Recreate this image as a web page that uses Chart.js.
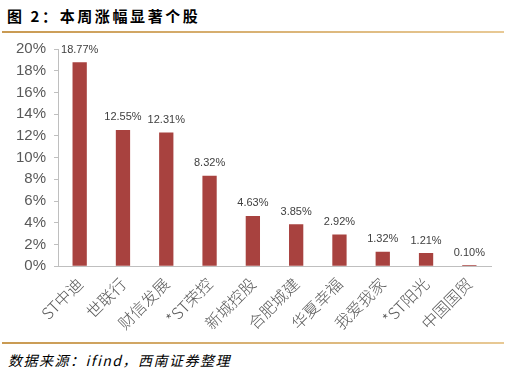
<!DOCTYPE html>
<html>
<head>
<meta charset="utf-8">
<script src="https://cdn.jsdelivr.net/npm/chart.js@4"></script>
<style>
  body { margin: 0; background: #fff; }
  #wrap { position: relative; width: 507px; height: 376px; overflow: hidden; font-family: "Noto Sans CJK SC", sans-serif; }
  #title { position: absolute; left: 7px; top: 5px; font-size: 15px; font-weight: bold; color: #000; letter-spacing: 2.6px; }
  .rule { position: absolute; left: 2px; width: 502px; height: 2px; background: linear-gradient(to right, #c99a52, #e8c995); }
  #src { position: absolute; left: 8px; top: 350px; font-size: 14px; font-style: italic; color: #000; letter-spacing: 1.5px; }
  #box { position: absolute; left: 0; top: 32px; width: 507px; height: 309px; }
</style>
</head>
<body>
<div id="wrap">
  <div id="title">图 2：本周涨幅显著个股</div>
  <div class="rule" style="top:31px"></div>
  <div id="box"><canvas id="barChart"></canvas></div>
  <div class="rule" style="top:342px"></div>
  <div id="src">数据来源：ifind，西南证券整理</div>
</div>
<script>
const stocks = ['ST中迪', '世联行', '财信发展', '*ST荣控', '新城控股', '合肥城建', '华夏幸福', '我爱我家', '*ST阳光', '中国国贸'];
const weeklyGain = [18.77, 12.55, 12.31, 8.32, 4.63, 3.85, 2.92, 1.32, 1.21, 0.10];
const yTicks = [0, 2, 4, 6, 8, 10, 12, 14, 16, 18, 20];

const valueLabels = {
  id: 'valueLabels',
  afterDatasetsDraw(chart) {
    const ctx = chart.ctx;
    const meta = chart.getDatasetMeta(0);
    ctx.save();
    ctx.font = '11px "Liberation Sans", Arial, sans-serif';
    ctx.fillStyle = '#404040';
    ctx.textAlign = 'center';
    ctx.textBaseline = 'bottom';
    meta.data.forEach((bar, i) => {
      ctx.fillText(weeklyGain[i].toFixed(2) + '%', bar.x, bar.y - 7);
    });
    ctx.restore();
  }
};

const ctx = document.getElementById('barChart').getContext('2d');
new Chart(ctx, {
  type: 'bar',
  data: {
    labels: stocks,
    datasets: [{
      data: weeklyGain,
      backgroundColor: '#a8423f',
      barPercentage: 0.33,
      categoryPercentage: 1
    }]
  },
  options: {
    responsive: true,
    maintainAspectRatio: false,
    animation: false,
    layout: { padding: { left: 8, right: 16, top: 0, bottom: 0 } },
    plugins: { legend: { display: false }, tooltip: { enabled: false } },
    scales: {
      x: {
        grid: { display: false, drawTicks: false },
        border: { color: '#bfbfbf', width: 1 },
        ticks: {
          minRotation: 45, maxRotation: 45, padding: 8, autoSkip: false,
          color: '#595959',
          font: { size: 16, weight: 300, family: '"Noto Sans CJK SC", sans-serif' }
        }
      },
      y: {
        min: 0, max: 20,
        afterBuildTicks(axis) { axis.ticks = yTicks.map(v => ({ value: v })); },
        grid: { drawOnChartArea: false, drawTicks: true, tickLength: 4, color: '#bfbfbf' },
        border: { color: '#bfbfbf', width: 1 },
        ticks: {
          padding: 8, autoSkip: false,
          color: '#595959',
          font: { size: 15, family: '"Liberation Sans", Arial, sans-serif' },
          callback: v => v + '%'
        }
      }
    }
  },
  plugins: [valueLabels]
});
</script>
</body>
</html>
